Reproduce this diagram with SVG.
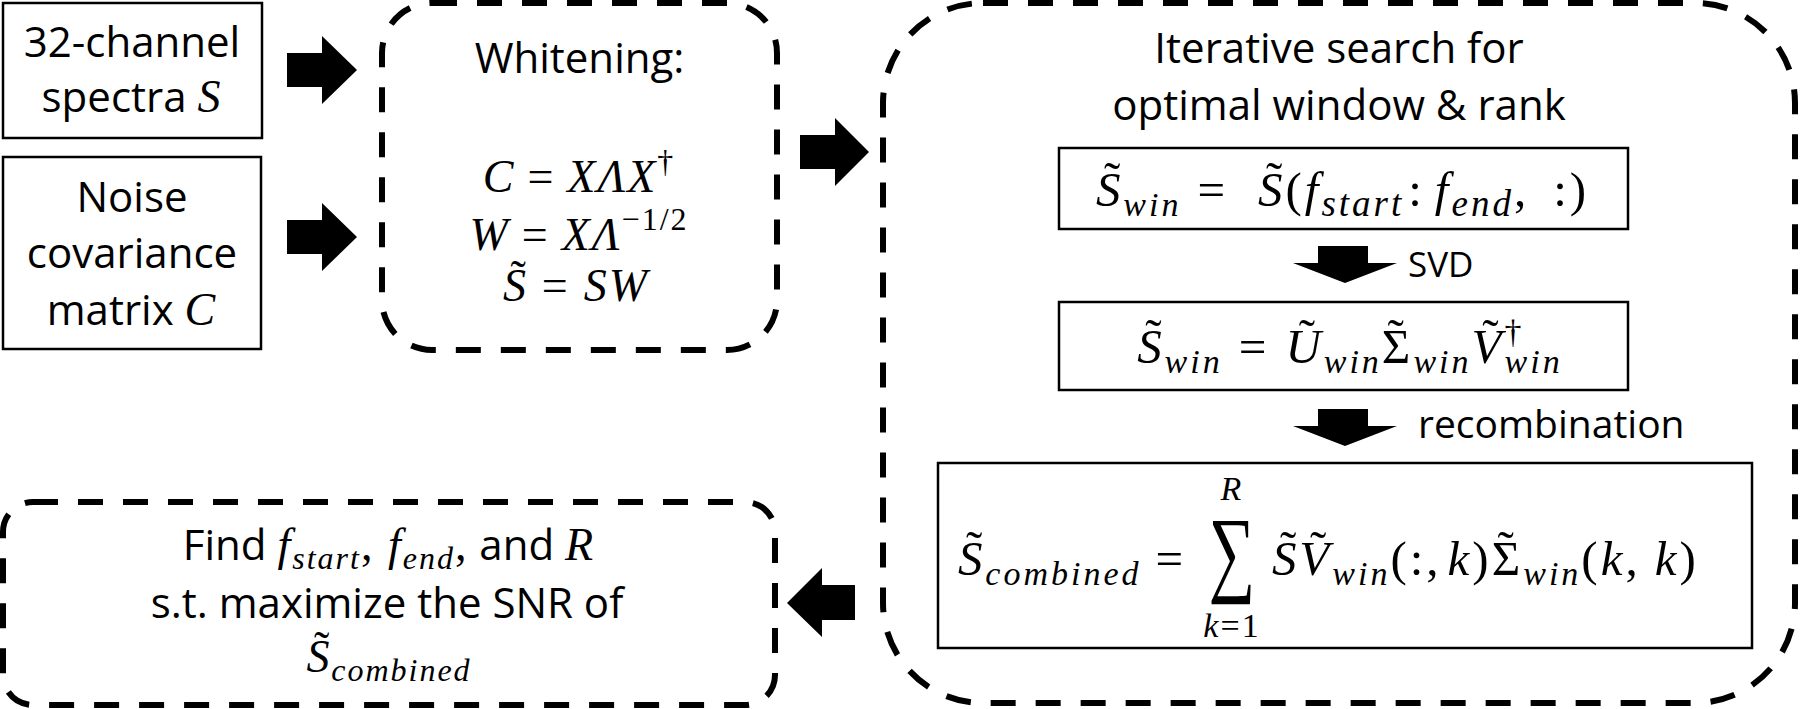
<svg xmlns="http://www.w3.org/2000/svg" width="1800" height="709" viewBox="0 0 1800 709">
<style>
.box{fill:none;stroke:#000;stroke-width:2.5}
.dash{fill:none;stroke:#000;stroke-width:6;stroke-dasharray:25 20}
.t{font-family:"Open Sans","Noto Sans",sans-serif;font-size:42px;fill:#000}
.m{font-family:"Liberation Serif",serif;font-style:italic;font-size:46px;letter-spacing:2px;fill:#000}
.b{font-size:49px;letter-spacing:3px}
.u{font-style:normal}
.s{font-size:32px}
.b .s{font-size:34px}
.b .s2{font-size:37px}
.tl{font-style:normal}
.ar{fill:#000}
</style>
<rect width="1800" height="709" fill="#fff"/>
<g id="connectors">
<polygon class="ar" points="287,53 322,53 322,36 357,70 322,104 322,87 287,87"/>
<polygon class="ar" points="287,220 322,220 322,203 357,237 322,271 322,254 287,254"/>
<polygon class="ar" points="800,135 835,135 835,118 869,152 835,186 835,169 800,169"/>
<polygon class="ar" points="855,585 822,585 822,568 787,603 822,637 822,620 855,620"/>
<polygon class="ar" points="1318,246 1368,246 1368,263 1397,263 1345,283 1293,263 1318,263"/>
<polygon class="ar" points="1318,409 1368,409 1368,426 1397,426 1345,446 1293,426 1318,426"/>
<text class="t" x="1408" y="277" style="font-size:35px">SVD</text>
<text class="t" x="1418" y="438" style="font-size:39px">recombination</text>
</g>
<g id="spectra">
<rect class="box" x="3" y="3" width="259" height="135"/>
<text class="t" x="132" y="57" text-anchor="middle">32-channel</text>
<text class="t" x="132" y="112" text-anchor="middle">spectra <tspan class="m">S</tspan></text>
</g>
<g id="noise">
<rect class="box" x="3" y="157" width="258" height="192"/>
<text class="t" x="132" y="212" text-anchor="middle">Noise</text>
<text class="t" x="132" y="268" text-anchor="middle">covariance</text>
<text class="t" x="132" y="325" text-anchor="middle">matrix <tspan class="m">C</tspan></text>
</g>
<g id="whitening">
<rect class="dash" x="382" y="3" width="395" height="347" rx="50"/>
<text class="t" x="579.5" y="73" text-anchor="middle">Whitening:</text>
<text class="m" x="579" y="192" text-anchor="middle">C<tspan class="u" dx="12">=</tspan><tspan dx="12">XΛX</tspan><tspan class="u s" dy="-20">†</tspan></text>
<text class="m" x="579" y="250" text-anchor="middle">W<tspan class="u" dx="12">=</tspan><tspan dx="12">XΛ</tspan><tspan class="u s" dy="-20">−1/2</tspan></text>
<text class="m" x="576" y="301" text-anchor="middle">S<tspan class="tl" dx="-17.5" dy="-9">˜</tspan><tspan class="u" dx="14" dy="9">=</tspan><tspan dx="14">SW</tspan></text>
</g>
<g id="search">
<rect class="dash" x="883" y="3" width="912" height="700" rx="100"/>
<text class="t" x="1339" y="63" text-anchor="middle">Iterative search for</text>
<text class="t" x="1339" y="120" text-anchor="middle">optimal window &amp; rank</text>
</g>
<g id="window">
<rect class="box" x="1059" y="148" width="569" height="81"/>
<text class="m b" x="1096" y="206">S<tspan class="tl" dx="-19.5" dy="-10">˜</tspan><tspan class="s" dy="20">win</tspan><tspan class="u" dx="16" dy="-10">=</tspan><tspan dx="30">S</tspan><tspan class="tl" dx="-19.5" dy="-10">˜</tspan><tspan class="u" dy="10">(</tspan>f<tspan class="s2" dy="10">start</tspan><tspan class="u" dx="4" dy="-10">:</tspan><tspan dx="10">f</tspan><tspan class="s2" dy="10">end</tspan><tspan class="u" dy="-10">,</tspan><tspan class="u" dx="24">:)</tspan></text>
</g>
<g id="svd">
<rect class="box" x="1059" y="302" width="569" height="88"/>
<text class="m b" x="1350" y="363" text-anchor="middle">S<tspan class="tl" dx="-19.5" dy="-10">˜</tspan><tspan class="s" dy="20">win</tspan><tspan class="u" dx="16" dy="-10">=</tspan><tspan dx="16">U</tspan><tspan class="tl" dx="-25" dy="-10">˜</tspan><tspan class="s" dx="5.6" dy="20">win</tspan><tspan class="u" dy="-10">Σ</tspan><tspan class="tl" dx="-25.8" dy="-10">˜</tspan><tspan class="s" dx="6.5" dy="20">win</tspan><tspan dy="-10">V</tspan><tspan class="tl" dx="-22.2" dy="-10">˜</tspan><tspan class="u s" dx="3" dy="-10">†</tspan><tspan class="s" dx="-20" dy="30">win</tspan></text>
</g>
<g id="combined">
<rect class="box" x="938" y="463" width="814" height="185"/>
<text class="m b" x="958" y="575">S<tspan class="tl" dx="-19.5" dy="-10">˜</tspan><tspan class="s" dy="20">combined</tspan><tspan class="u" dx="14" dy="-10">=</tspan></text>
<text transform="translate(1232,584) scale(0.68,1)" x="0" y="0" text-anchor="middle" style="font-family:'Liberation Serif',serif;font-size:96px">∑</text>
<text class="m s" x="1232" y="500" text-anchor="middle" style="font-size:34px">R</text>
<text class="m s" x="1232" y="637" text-anchor="middle" style="font-size:34px">k<tspan class="u">=1</tspan></text>
<text class="m b" x="1272" y="575">S<tspan class="tl" dx="-19.5" dy="-10">˜</tspan><tspan dy="10">V</tspan><tspan class="tl" dx="-22.2" dy="-10">˜</tspan><tspan class="s" dx="2.9" dy="20">win</tspan><tspan class="u" dy="-10">(:,</tspan><tspan dx="6">k</tspan><tspan class="u">)Σ</tspan><tspan class="tl" dx="-25.8" dy="-10">˜</tspan><tspan class="s" dx="6.5" dy="20">win</tspan><tspan class="u" dy="-10">(</tspan>k<tspan class="u">,</tspan><tspan dx="14">k</tspan><tspan class="u">)</tspan></text>
</g>
<g id="find">
<rect class="dash" x="3" y="502" width="772" height="203" rx="30"/>
<text class="t" x="389" y="560" text-anchor="middle">Find <tspan class="m">f</tspan><tspan class="m s" dy="9">start</tspan><tspan class="m u" dy="-9">, </tspan><tspan class="m">f</tspan><tspan class="m s" dy="9">end</tspan><tspan class="m u" dy="-9">,</tspan> and <tspan class="m">R</tspan></text>
<text class="t" x="387" y="618" text-anchor="middle">s.t. maximize the SNR of</text>
<text class="m" x="389" y="672" text-anchor="middle">S<tspan class="tl" dx="-17.5" dy="-9">˜</tspan><tspan class="s" dy="18">combined</tspan></text>
</g>
</svg>
